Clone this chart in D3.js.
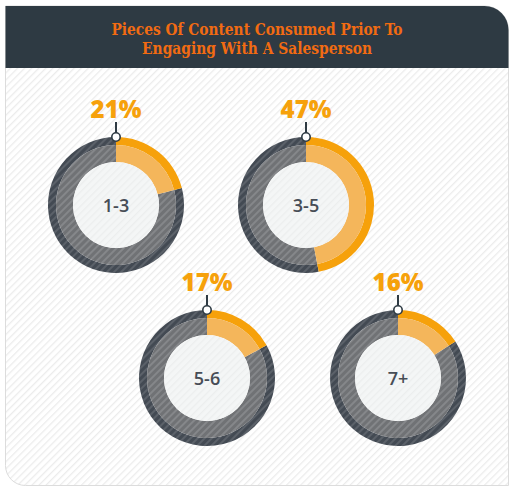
<!DOCTYPE html>
<html><head><meta charset="utf-8">
<script src="https://cdn.jsdelivr.net/npm/d3@7"></script>
<style>html,body{margin:0;padding:0;background:#fff;}svg{display:block;}</style>
</head><body>
<svg id="chart" width="514" height="493"></svg>
<script>
// ---- data ----
const titleLines = ["Pieces Of Content Consumed Prior To", "Engaging With A Salesperson"];
const categories = ["1-3", "3-5", "5-6", "7+"];
const values = [21, 47, 17, 16];

// ---- layout (not data) ----
const W = 514, H = 493;
const centersX = [116, 306, 207, 398];
const centersY = [205, 205, 378, 378];
const R = {outer: 68, band: 60, inner: 43};

const svg = d3.select("#chart");
const defs = svg.append("defs");

function stripes(id, base, stripe, size, sw) {
  const p = defs.append("pattern").attr("id", id)
    .attr("patternUnits", "userSpaceOnUse").attr("width", size).attr("height", size)
    .attr("patternTransform", "rotate(45)");
  p.append("rect").attr("width", size).attr("height", size).attr("fill", base);
  p.append("rect").attr("width", sw).attr("height", size).attr("fill", stripe);
}
stripes("bg", "#ffffff", "#ececec", 5, 1.3);
stripes("darkRing", "#434a53", "#5b6169", 5, 2);
stripes("midRing", "#707275", "#85878a", 5, 2);
stripes("innerFill", "#f4f6f6", "#eceeee", 5, 1.3);

// panel body
const panel = d3.path();
const x0 = 5.5, x1 = 508.5, y0 = 6, y1 = 485.5, rr = 24, rb = 20;
panel.moveTo(x0, y0);
panel.lineTo(x1 - rr, y0);
panel.arcTo(x1, y0, x1, y0 + rr, rr);
panel.lineTo(x1, y1);
panel.lineTo(x0 + rb, y1);
panel.arcTo(x0, y1, x0, y1 - rb, rb);
panel.closePath();
svg.append("path").attr("d", panel.toString()).attr("fill", "url(#bg)")
  .attr("stroke", "#dcdcdc").attr("stroke-width", 1);

// header
const head = d3.path();
head.moveTo(x0, y0);
head.lineTo(x1 - rr, y0);
head.arcTo(x1, y0, x1, y0 + rr, rr);
head.lineTo(x1, 68);
head.lineTo(x0, 68);
head.closePath();
svg.append("path").attr("d", head.toString()).attr("fill", "#2e3a43");

const tl = [291, 230];
svg.append("g").selectAll("text").data(titleLines).join("text")
  .attr("x", 257).attr("y", (d, i) => 35 + i * 18.5)
  .attr("text-anchor", "middle")
  .attr("textLength", (d, i) => tl[i]).attr("lengthAdjust", "spacingAndGlyphs")
  .attr("font-family", "'DejaVu Serif', serif").attr("font-weight", "bold")
  .attr("font-size", 16).attr("fill", "#f26b12")
  .text(d => d);

// angle scale
const angle = d3.scaleLinear().domain([0, 100]).range([0, 2 * Math.PI]);
const arcOuter = d3.arc().innerRadius(R.band).outerRadius(R.outer);
const arcMid = d3.arc().innerRadius(R.inner).outerRadius(R.band);

const donuts = svg.append("g").selectAll("g").data(categories).join("g")
  .attr("transform", (d, i) => `translate(${centersX[i]},${centersY[i]})`);

donuts.each(function(cat, i) {
  const g = d3.select(this);
  const v = values[i];
  const a = angle(v);
  // gray remainder
  g.append("path").attr("d", arcOuter({startAngle: a, endAngle: angle(100)})).attr("fill", "url(#darkRing)");
  g.append("path").attr("d", arcMid({startAngle: a, endAngle: angle(100)})).attr("fill", "url(#midRing)");
  // orange share
  g.append("path").attr("d", arcOuter({startAngle: 0, endAngle: a})).attr("fill", "#f6a10b");
  g.append("path").attr("d", arcMid({startAngle: 0, endAngle: a})).attr("fill", "#f4b65b");
  // inner disc
  g.append("circle").attr("r", R.inner).attr("fill", "url(#innerFill)");
  g.append("text").attr("y", 6.5).attr("text-anchor", "middle")
    .attr("font-family", "'Open Sans', sans-serif").attr("font-weight", 600)
    .attr("font-size", 18).attr("fill", "#474d56").text(cat);
  // stem + marker
  g.append("line").attr("x1", 0).attr("x2", 0).attr("y1", -R.outer - 15).attr("y2", -R.outer - 4)
    .attr("stroke", "#2e3a43").attr("stroke-width", 2);
  g.append("circle").attr("cy", -R.outer).attr("r", 4.2).attr("fill", "#fff")
    .attr("stroke", "#2e3a43").attr("stroke-width", 1.6);
  g.append("text").attr("y", -R.outer - 19).attr("text-anchor", "middle")
    .attr("font-family", "'Open Sans', sans-serif").attr("font-weight", 800)
    .attr("font-size", 24).attr("fill", "#f6a10b").text(v + "%");
});
</script>
</body></html>
